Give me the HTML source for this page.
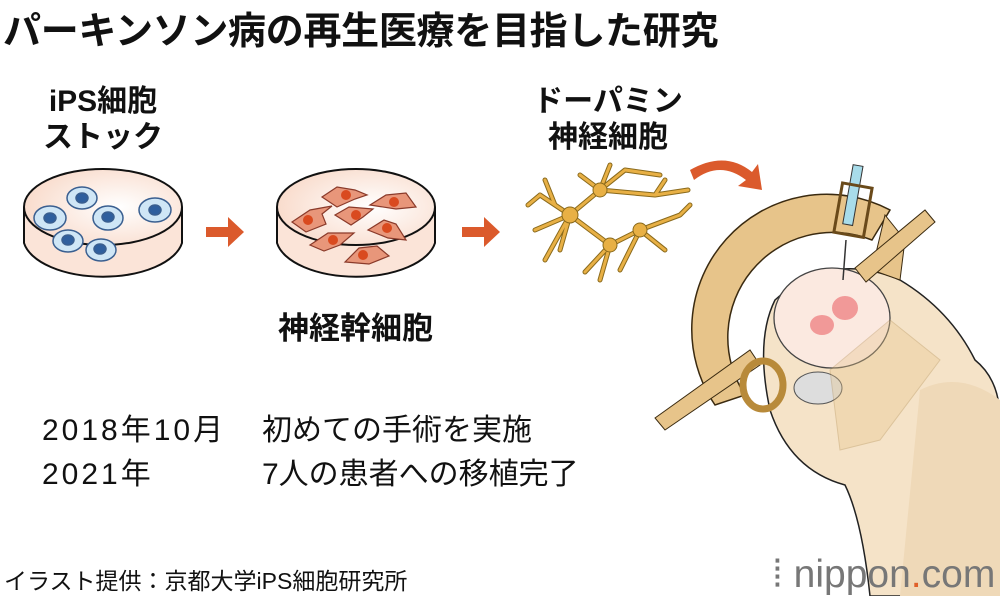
<!DOCTYPE html>
<html><head><meta charset="utf-8"><style>
body{margin:0;width:1000px;height:596px;overflow:hidden;background:#fff;font-family:"Liberation Sans","Noto Sans CJK JP",sans-serif}
.t{position:absolute;white-space:nowrap;color:#111}
</style></head><body>
<svg width="1000" height="596" style="position:absolute;left:0;top:0">
<defs>
<radialGradient id="dish" cx="0.6" cy="0.5" r="0.7"><stop offset="0" stop-color="#fff"/><stop offset="1" stop-color="#f8d6c4"/></radialGradient>
</defs>
<g stroke="#111" stroke-width="2">
<path d="M24 207 L24 243 A80 40 0 0 0 182 243 L182 207" fill="#fbe4d8"/>
<ellipse cx="103" cy="207" rx="79" ry="38" fill="url(#dish)"/>
</g>
<g stroke="#3a5f90" stroke-width="1.5">
<ellipse cx="82" cy="198" rx="15" ry="11" fill="#cfe6f6"/><ellipse cx="82" cy="198" rx="6" ry="5" fill="#2f5f9e"/>
<ellipse cx="50" cy="218" rx="16" ry="12" fill="#cfe6f6"/><ellipse cx="50" cy="218" rx="6" ry="5" fill="#2f5f9e"/>
<ellipse cx="108" cy="218" rx="15" ry="12" fill="#cfe6f6"/><ellipse cx="108" cy="217" rx="6" ry="5" fill="#2f5f9e"/>
<ellipse cx="155" cy="210" rx="16" ry="12" fill="#cfe6f6"/><ellipse cx="155" cy="210" rx="6" ry="5" fill="#2f5f9e"/>
<ellipse cx="68" cy="241" rx="15" ry="11" fill="#cfe6f6"/><ellipse cx="68" cy="240" rx="6" ry="5" fill="#2f5f9e"/>
<ellipse cx="101" cy="250" rx="15" ry="11" fill="#cfe6f6"/><ellipse cx="100" cy="249" rx="6" ry="5" fill="#2f5f9e"/>
</g>
<g stroke="#111" stroke-width="2">
<path d="M277 207 L277 243 A80 40 0 0 0 435 243 L435 207" fill="#fbe4d8"/>
<ellipse cx="356" cy="207" rx="79" ry="38" fill="url(#dish)"/>
</g>
<g stroke="#8a3a2a" stroke-width="1.2" fill="#e8967a">
<path d="M322 197 l15 -10 l18 3 l12 5 l-12 4 l-18 8 z"/><path d="M292 222 l18 -12 l22 -4 l-10 8 l4 10 l-20 8 z"/><path d="M335 215 l14 -8 l24 2 l-10 8 l-12 8 z"/><path d="M370 205 l16 -10 l20 -2 l10 14 l-20 2 z"/><path d="M368 230 l16 -10 l12 4 l10 16 l-18 -2 z"/><path d="M310 245 l18 -12 l26 0 l-14 12 l-16 6 z"/><path d="M345 262 l14 -14 l18 -2 l12 10 l-20 8 z"/>
</g>
<g fill="#d94a1f"><circle cx="346" cy="195" r="5"/><circle cx="308" cy="220" r="5"/><circle cx="356" cy="215" r="5"/><circle cx="394" cy="202" r="5"/><circle cx="387" cy="228" r="5"/><circle cx="333" cy="240" r="5"/><circle cx="363" cy="255" r="5"/></g>
<path d="M206 227 h22 v-10 l16 15 l-16 15 v-10 h-22z" fill="#db5a2c"/>
<path d="M462 227 h22 v-10 l16 15 l-16 15 v-10 h-22z" fill="#db5a2c"/>
<path d="M690 170 Q725 150 752 172 l6 -8 l4 26 l-24 -4 l8 -6 Q720 160 694 180z" fill="#db5a2c"/>
<g stroke="#8a6a1c" stroke-width="5" stroke-linecap="round" fill="none">
<path id="nr" d="M570 215 L540 195 M570 215 L535 230 M570 215 L560 250 M570 215 L600 190 M570 215 L610 245 M600 190 L625 170 M600 190 L580 175 M610 245 L640 230 M610 245 L600 280 M640 230 L680 215 M640 230 L665 250 M600 190 L655 195 M655 195 L688 190 M625 170 L660 175 M570 215 L545 260 M600 190 L610 165 M640 230 L620 270 M610 245 L585 272 M555 205 L545 180 M655 195 L665 180 M680 215 L690 205 M540 195 L528 205"/>
</g>
<g stroke="#e8b045" stroke-width="3" stroke-linecap="round" fill="none">
<use href="#nr"/>
</g>
<g fill="#e8b045" stroke="#8a6a1c"><circle cx="570" cy="215" r="8"/><circle cx="600" cy="190" r="7"/><circle cx="610" cy="245" r="7"/><circle cx="640" cy="230" r="7"/></g>
<path d="M775 300 Q830 250 900 280 Q950 310 975 360 Q1000 380 1000 420 L1000 596 L870 596 Q862 520 845 485 Q790 470 770 410 Q755 340 775 300z" fill="#f5e3c8" stroke="#222" stroke-width="1.5"/>
<path d="M920 390 Q960 370 1000 400 L1000 596 L900 596z" fill="#efd9b8"/>
<ellipse cx="832" cy="318" rx="58" ry="50" fill="#fbe9e0" stroke="#444" stroke-width="1.3"/>
<ellipse cx="818" cy="388" rx="24" ry="16" fill="#ddd" stroke="#555"/>
<g fill="#f08c8c" opacity="0.85"><ellipse cx="845" cy="308" rx="13" ry="12"/><ellipse cx="822" cy="325" rx="12" ry="10"/></g>
<path d="M715 405 A135 135 0 0 1 890 210 L872 240 A105 105 0 0 0 745 395z" fill="#e7c48a" stroke="#3a2a10" stroke-width="1.5"/>
<path d="M885 215 L905 240 L900 280 L872 270z" fill="#e7c48a" stroke="#3a2a10"/>
<path d="M855 268 L925 210 L935 222 L866 282z" fill="#e7c48a" stroke="#3a2a10"/>
<path d="M655 418 L750 350 L760 365 L665 430z" fill="#e7c48a" stroke="#3a2a10"/>
<ellipse cx="763" cy="385" rx="20" ry="24" fill="none" stroke="#b88a3a" stroke-width="7"/>
<path d="M830 370 L890 320 L940 360 L880 440 L840 450z" fill="#e7c48a" opacity="0.35" stroke="#b08a4a"/>
<line x1="846" y1="240" x2="843" y2="280" stroke="#333" stroke-width="1.5"/>
<rect x="847" y="165" width="10" height="60" fill="#a8dcea" stroke="#333" transform="rotate(10 852 200)"/>
<rect x="838" y="185" width="30" height="50" fill="none" stroke="#6a4a1a" stroke-width="3" transform="rotate(10 852 210)"/>
</svg>
<div class="t" style="left:3px;top:0px;font-size:38px;font-weight:bold;letter-spacing:-0.3px">パーキンソン病の再生医療を目指した研究</div>
<div class="t" style="left:38px;top:84px;width:130px;font-size:30px;font-weight:bold;line-height:36px;text-align:center">iPS細胞<br>ストック</div>
<div class="t" style="left:518px;top:84px;width:180px;font-size:30px;font-weight:bold;line-height:36px;text-align:center">ドーパミン<br>神経細胞</div>
<div class="t" style="left:278px;top:303px;font-size:31px;font-weight:bold">神経幹細胞</div>
<div class="t" style="left:42px;top:405px;font-size:30px;letter-spacing:3px">2018年10月</div>
<div class="t" style="left:262px;top:405px;font-size:30px">初めての手術を実施</div>
<div class="t" style="left:42px;top:449px;font-size:30px;letter-spacing:3px">2021年</div>
<div class="t" style="left:262px;top:449px;font-size:30px">7人の患者への移植完了</div>
<div class="t" style="left:4px;top:562px;font-size:23px">イラスト提供：京都大学iPS細胞研究所</div>
<div class="t" style="left:772px;top:553px;font-size:39px;color:#777">⁞ nippon<span style="color:#e0602a">.</span>com</div>
</body></html>
